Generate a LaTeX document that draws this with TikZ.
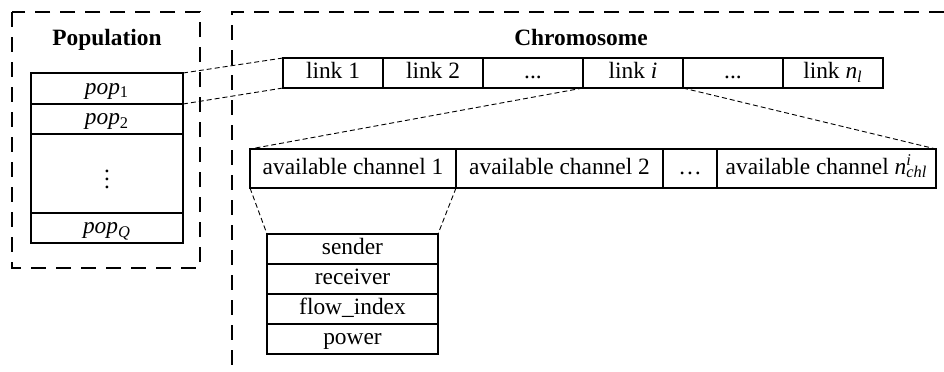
\documentclass[tikz,border=0pt]{standalone}
\usepackage{fontspec}
\setmainfont{Liberation Serif}
\usepackage{tikz}
\usetikzlibrary{positioning}

\tikzset{
  cell/.style={draw, line width=0.6pt, minimum height=15pt, inner sep=0pt, outer sep=0pt,
    text height=8.2pt, text depth=2.6pt},
  frame/.style={line width=1.1pt, dash pattern=on 7.5pt off 5pt},
  guide/.style={line width=0.45pt, dash pattern=on 2.5pt off 1.5pt},
}

\begin{document}
\begin{tikzpicture}[x=0.5pt, y=-0.5pt, font=\fontsize{11.7}{14}\selectfont]
  \useasboundingbox (0,0) rectangle (944,371);

  % population
  \draw[frame] (12,12) rectangle (200,268);
  \node[font=\fontsize{11.7}{14}\selectfont\bfseries] (poptitle) at (107,40) {Population};
  \node[cell, minimum width=76pt, minimum height=15.5pt, anchor=north west] (pop1) at (31,73) {\textit{pop}\textsubscript{1}};
  \node[cell, minimum width=76pt, below=0pt of pop1] (pop2) {\textit{pop}\textsubscript{2}};
  \node[cell, minimum width=76pt, minimum height=39.5pt, below=0pt of pop2, text height=, text depth=] (popdots) {$\vdots$};
  \node[cell, minimum width=76pt, below=0pt of popdots] (popQ) {\textit{pop}\textsubscript{\textit{Q}}};

  % chromosome
  \draw[frame] (944,12) -- (232,12) -- (232,371);
  \node[font=\fontsize{11.7}{14}\selectfont\bfseries] (chrtitle) at (581,37) {Chromosome};
  \node[cell, minimum width=50pt, anchor=north west] (link1) at (283,58) {link 1};
  \node[cell, minimum width=50pt, right=0pt of link1] (link2) {link 2};
  \node[cell, minimum width=50pt, right=0pt of link2] (linkdots) {...};
  \node[cell, minimum width=50pt, right=0pt of linkdots] (linki) {link \textit{i}};
  \node[cell, minimum width=50pt, right=0pt of linki] (linkdots2) {...};
  \node[cell, minimum width=50pt, right=0pt of linkdots2] (linkn) {link \textit{n}\textsubscript{\textit{l}}};

  % channels of link i
  \node[cell, minimum width=103pt, minimum height=19.5pt, anchor=north west] (chan1) at (250,149) {available channel 1};
  \node[cell, minimum width=103.5pt, minimum height=19.5pt, right=0pt of chan1] (chan2) {available channel 2};
  \node[cell, minimum width=27pt, minimum height=19.5pt, right=0pt of chan2] (chandots) {\ldots};
  \node[cell, minimum width=109.5pt, minimum height=19.5pt, right=0pt of chandots] (chann) {available channel \textit{n}\rlap{\textsuperscript{\textit{i}}}\textsubscript{\textit{chl}}};

  % fields of channel 1
  \node[cell, minimum width=85.5pt, anchor=north west] (sender) at (267,234) {sender};
  \node[cell, minimum width=85.5pt, below=0pt of sender] (receiver) {receiver};
  \node[cell, minimum width=85.5pt, below=0pt of receiver] (flow) {flow\_index};
  \node[cell, minimum width=85.5pt, below=0pt of flow] (power) {power};

  % zoom lines
  \draw[guide] (pop1.north east) -- (link1.north west);
  \draw[guide] (pop1.south east) -- (link1.south west);
  \draw[guide] (linki.south west) -- (chan1.north west);
  \draw[guide] (linki.south east) -- (chann.north east);
  \draw[guide] (chan1.south west) -- (sender.north west);
  \draw[guide] (chan1.south east) -- (sender.north east);
\end{tikzpicture}
\end{document}
